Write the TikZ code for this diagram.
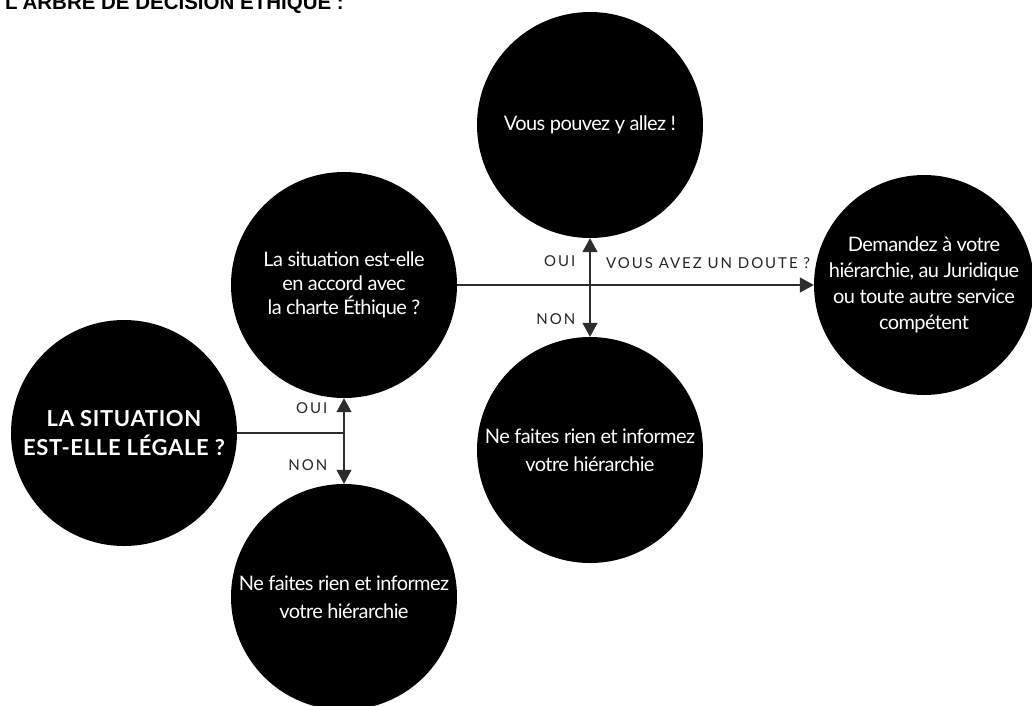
\documentclass[tikz,border=0pt]{standalone}
\usepackage{fontspec}
\setmainfont{Lato}
\newfontfamily\titlefont{Liberation Sans}
\usepackage{xcolor}
\usepackage{tikz}
\usetikzlibrary{positioning, arrows.meta}
\definecolor{linegray}{RGB}{45,45,45}

\tikzset{
    bulle/.style={circle, fill=black, text=white, minimum size=226pt, inner sep=0pt, align=center,
        font=\fontsize{20}{26}\selectfont\addfontfeature{LetterSpace=-3}},
    lien/.style={draw=linegray, line width=1.4pt},
    fleche/.style={lien, -{Triangle[length=14pt,width=15pt]}},
    fleches/.style={lien, {Triangle[length=14pt,width=15pt]}-{Triangle[length=14pt,width=15pt]}},
    etiquette/.style={font=\fontsize{15}{18}\selectfont\addfontfeature{LetterSpace=13}, text=black!85, inner sep=0pt}
}

\begin{document}
\begin{tikzpicture}[x=1pt, y=-1pt]
    \useasboundingbox (0,0) rectangle (1032,705);
    \node[anchor=base west, inner sep=0pt, font=\titlefont\bfseries\fontsize{20.5}{24}\selectfont] (titre) at (5,9) {L'ARBRE DE DÉCISION ÉTHIQUE :};

    \node[bulle, font=\bfseries\fontsize{22}{29}\selectfont\addfontfeature{LetterSpace=3}] (legale) at (124,433) {LA SITUATION\\EST-ELLE LÉGALE ?};
    \node[bulle, font=\fontsize{20}{24}\selectfont\addfontfeature{LetterSpace=-3}] (charte) at (344,285) {La situation est-elle\\en accord avec\\la charte Éthique ?};
    \node[bulle, font=\fontsize{20}{28}\selectfont\addfontfeature{LetterSpace=-3}] (rienA) at (344,597) {Ne faites rien et informez\\votre hiérarchie};
    \node[bulle] (allez) at (590,125) {Vous pouvez y allez !};
    \node[bulle, font=\fontsize{20}{28}\selectfont\addfontfeature{LetterSpace=-3}] (rienB) at (590,450) {Ne faites rien et informez\\votre hiérarchie};
    \node[bulle, minimum size=220pt] (demande) at (924,285) {Demandez à votre\\hiérarchie, au Juridique\\ou toute autre service\\compétent};

    % est-ce légal ?
    \coordinate (fourche) at (charte.south |- legale.east);
    \draw[lien] (legale.east) -- (fourche);
    \draw[fleches] (charte.south) -- node[etiquette, pos=.12, left=16pt] {OUI} node[etiquette, pos=.78, left=16pt] {NON} (rienA.north);

    % charte éthique
    \draw[fleches] (allez.south) -- node[etiquette, pos=.23, left=14pt] {OUI} node[etiquette, pos=.82, left=14pt] {NON} (rienB.north);
    \draw[fleche] (charte.east) -- node[etiquette, pos=1, anchor=south east, yshift=16pt, xshift=-3pt] {VOUS AVEZ UN DOUTE ?} (demande.west);
\end{tikzpicture}
\end{document}
